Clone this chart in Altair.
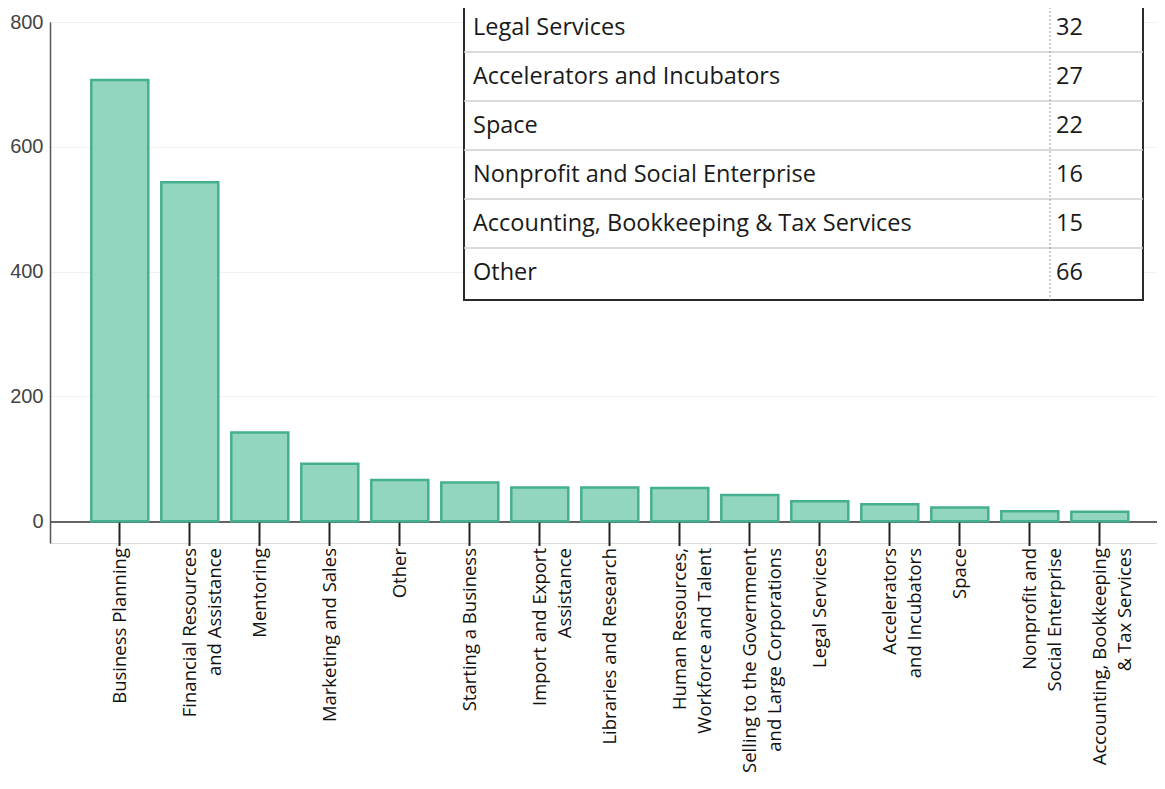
import altair as alt
import pandas as pd

# ---- data ----
categories = [
    "Business Planning",
    "Financial Resources|and Assistance",
    "Mentoring",
    "Marketing and Sales",
    "Other",
    "Starting a Business",
    "Import and Export|Assistance",
    "Libraries and Research",
    "Human Resources,|Workforce and Talent",
    "Selling to the Government|and Large Corporations",
    "Legal Services",
    "Accelerators|and Incubators",
    "Space",
    "Nonprofit and|Social Enterprise",
    "Accounting, Bookkeeping|& Tax Services",
]
values = [707, 543, 142, 92, 66, 62, 54, 54, 53, 42, 32, 27, 22, 16, 15]

table_labels = [
    "Legal Services",
    "Accelerators and Incubators",
    "Space",
    "Nonprofit and Social Enterprise",
    "Accounting, Bookkeeping & Tax Services",
    "Other",
]
table_values = [32, 27, 22, 16, 15, 66]

y_ticks = [0, 200, 400, 600, 800]

bars_df = pd.DataFrame({"category": categories, "count": values})
table_df = pd.DataFrame({"label": table_labels, "value": table_values,
                         "row": list(range(len(table_labels)))})
frame_df = pd.DataFrame({"n": [len(table_labels)]})

# ---- layout (pixels inside the plot area) ----
PLOT_W, PLOT_H = 1107, 521
ROW_H = 49
TABLE_TOP = -19
TABLE_LEFT, TABLE_DIV, TABLE_RIGHT = 414, 1000, 1093
LABEL_FONT = "Open Sans"

x_enc = alt.X(
    "category:N",
    sort=categories,
    scale=alt.Scale(paddingInner=0.186, paddingOuter=0.5, align=0.59),
    axis=alt.Axis(
        title=None,
        labelAngle=-90,
        labelAlign="right",
        labelBaseline="middle",
        labelExpr="split(datum.value, '|')",
        labelFont=LABEL_FONT,
        labelFontSize=18.5,
        labelLineHeight=25,
        labelColor="#111111",
        labelPadding=2,
        labelLimit=400,
        labelOverlap=False,
        tickSize=24,
        tickWidth=2,
        tickColor="#222222",
        domainColor="#333333",
        domainWidth=1.5,
        offset=-21.5,
        grid=False,
    ),
)

y_enc = alt.Y(
    "count:Q",
    scale=alt.Scale(domain=[-35, 800], nice=False, zero=False),
    axis=alt.Axis(
        title=None,
        values=y_ticks,
        ticks=False,
        labelPadding=7,
        labelFont="Liberation Sans",
        labelFontSize=20,
        labelColor="#444444",
        domainColor="#555555",
        domainWidth=1.5,
        grid=True,
        gridColor="#f0f0f0",
        gridWidth=1,
    ),
)

bars = alt.Chart(bars_df).mark_bar(
    fill="#93d6c0", stroke="#45b08f", strokeWidth=2.5
).encode(x=x_enc, y=y_enc)

frame = alt.Chart(frame_df).mark_rect(
    fill="white", stroke="#2b2b2b", strokeWidth=2
).encode(
    x=alt.value(TABLE_LEFT), x2=alt.value(TABLE_RIGHT),
    y=alt.value(TABLE_TOP), y2=alt.value(TABLE_TOP + ROW_H * 6 + 3),
)

row_lines = alt.Chart(table_df).transform_filter(
    f"datum.row < {len(table_labels) - 1}"
).transform_calculate(
    line_y=f"{TABLE_TOP} + {ROW_H} * (datum.row + 1)"
).mark_rule(color="#cfcfcf", strokeWidth=1.5).encode(
    x=alt.value(TABLE_LEFT), x2=alt.value(TABLE_RIGHT),
    y=alt.Y("line_y:Q", scale=None, axis=None),
)

divider = alt.Chart(frame_df).mark_rule(
    color="#999999", strokeWidth=1, strokeDash=[2, 2]
).encode(
    x=alt.value(TABLE_DIV),
    y=alt.value(TABLE_TOP), y2=alt.value(TABLE_TOP + ROW_H * 6 + 3),
)

row_text = alt.Chart(table_df).transform_calculate(
    cy=f"{TABLE_TOP} + {ROW_H} * (datum.row + 0.5)"
)

labels_txt = row_text.mark_text(
    align="left", baseline="middle", font=LABEL_FONT, fontSize=23.5, color="#1a1a1a"
).encode(
    x=alt.value(TABLE_LEFT + 9),
    y=alt.Y("cy:Q", scale=None, axis=None),
    text="label:N",
)

values_txt = row_text.mark_text(
    align="left", baseline="middle", font=LABEL_FONT, fontSize=23.5, color="#1a1a1a"
).encode(
    x=alt.value(TABLE_DIV + 6),
    y=alt.Y("cy:Q", scale=None, axis=None),
    text="value:Q",
)

chart = alt.layer(bars, frame, row_lines, divider, labels_txt, values_txt).properties(
    width=PLOT_W,
    height=PLOT_H,
    autosize=alt.AutoSizeParams(type="none"),
    padding={"left": 42, "top": 14, "right": 0, "bottom": 238},
).configure_view(stroke=None).configure(background="white")

chart.save("out.html", embed_options={"renderer": "svg", "actions": False})
